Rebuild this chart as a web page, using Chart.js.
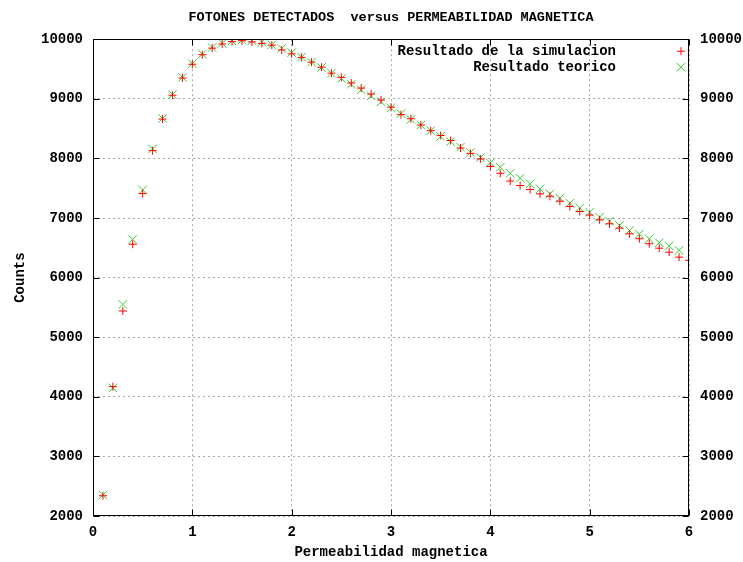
<!DOCTYPE html>
<html>
<head>
<meta charset="utf-8">
<script src="https://cdn.jsdelivr.net/npm/chart.js@4"></script>
<style>
  body { margin: 0; background: #fff; }
  #wrap { width: 743px; height: 562px; position: relative; }
</style>
</head>
<body>
<div id="wrap"><canvas id="chart"></canvas></div>
<script>
var chartTitle = 'FOTONES DETECTADOS  versus PERMEABILIDAD MAGNETICA';
var xTitle = 'Permeabilidad magnetica';
var yTitle = 'Counts';
var labels = ['Resultado de la simulacion', 'Resultado teorico'];

// permeabilidad (x) values
var xValues = [0.1, 0.2, 0.3, 0.4, 0.5, 0.6, 0.7, 0.8, 0.9, 1.0,
               1.1, 1.2, 1.3, 1.4, 1.5, 1.6, 1.7, 1.8, 1.9, 2.0,
               2.1, 2.2, 2.3, 2.4, 2.5, 2.6, 2.7, 2.8, 2.9, 3.0,
               3.1, 3.2, 3.3, 3.4, 3.5, 3.6, 3.7, 3.8, 3.9, 4.0,
               4.1, 4.2, 4.3, 4.4, 4.5, 4.6, 4.7, 4.8, 4.9, 5.0,
               5.1, 5.2, 5.3, 5.4, 5.5, 5.6, 5.7, 5.8, 5.9, 6.0];

var simCounts = [2340, 4170, 5440, 6560, 7410, 8130, 8660, 9060, 9350, 9580,
                 9740, 9850, 9920, 9960, 9975, 9955, 9930, 9900, 9820, 9755,
                 9695, 9615, 9530, 9430, 9360, 9265, 9180, 9080, 8980, 8860,
                 8735, 8665, 8560, 8465, 8385, 8300, 8175, 8085, 7990, 7865,
                 7750, 7620, 7545, 7478, 7405, 7365, 7282, 7193, 7109, 7050,
                 6970, 6903, 6830, 6735, 6652, 6568, 6494, 6427, 6343, 6290];

var theoryCounts = [2350, 4150, 5550, 6640, 7470, 8160, 8670, 9070, 9360, 9590,
                    9750, 9860, 9930, 9970, 9985, 9975, 9950, 9905, 9845, 9775,
                    9700, 9615, 9525, 9430, 9340, 9245, 9150, 9050, 8950, 8850,
                    8750, 8655, 8560, 8465, 8370, 8280, 8190, 8100, 8015, 7925,
                    7851, 7750, 7667, 7573, 7489, 7405, 7332, 7248, 7171, 7097,
                    7014, 6947, 6874, 6790, 6730, 6650, 6585, 6530, 6456];

var xTicks = [0, 1, 2, 3, 4, 5, 6];
var yTicks = [2000, 3000, 4000, 5000, 6000, 7000, 8000, 9000, 10000];

var FONT = "'Liberation Mono', 'DejaVu Sans Mono', monospace";

// gnuplot style frame, inward ticks and key
var gnuplotBits = {
    id: 'gnuplotBits',
    afterDatasetsDraw(chart) {
        let ctx = chart.ctx;
        let a = chart.chartArea;
        let L = Math.round(a.left) + 0.5, R = Math.round(a.right) - 0.5;
        let T = Math.round(a.top) + 0.5, B = Math.round(a.bottom) - 0.5;
        ctx.save();
        ctx.strokeStyle = '#000';
        ctx.lineWidth = 1;
        ctx.beginPath();
        chart.scales.x.ticks.forEach(function (t) {
            let px = Math.round(chart.scales.x.getPixelForValue(t.value)) + 0.5;
            ctx.moveTo(px, B); ctx.lineTo(px, B - 6);
            ctx.moveTo(px, T); ctx.lineTo(px, T + 6);
        });
        chart.scales.y.ticks.forEach(function (t) {
            let py = Math.round(chart.scales.y.getPixelForValue(t.value)) + 0.5;
            ctx.moveTo(L, py); ctx.lineTo(L + 6, py);
            ctx.moveTo(R, py); ctx.lineTo(R - 6, py);
        });
        ctx.stroke();
        ctx.strokeRect(L, T, R - L, B - T);

        // key, top right
        ctx.font = 'bold 14px ' + FONT;
        ctx.textAlign = 'right';
        ctx.textBaseline = 'middle';
        chart.data.datasets.forEach(function (ds, i) {
            let y = a.top + 12 + i * 16;
            ctx.fillStyle = '#000';
            ctx.fillText(ds.label, a.right - 73, y);
            ctx.strokeStyle = ds.borderColor;
            ctx.lineWidth = 1;
            Chart.helpers.drawPoint(ctx, {
                pointStyle: ds.pointStyle, radius: ds.pointRadius, rotation: 0, borderWidth: 1
            }, a.right - 8, y);
        });
        ctx.restore();
    }
};

var simData = xValues.map((x, i) => ({x: x, y: simCounts[i]}));
var theoryData = theoryCounts.map((y, i) => ({x: xValues[i], y: y}));

var tickFont = { family: FONT, size: 14, weight: 'bold' };
var plainNum = v => String(v);

new Chart(document.getElementById('chart'), {
    type: 'scatter',
    data: {
        datasets: [{
            label: labels[0],
            data: simData,
            pointStyle: 'cross',
            pointRadius: 4,
            borderColor: '#ff0000',
            backgroundColor: '#ff0000',
            borderWidth: 1
        }, {
            label: labels[1],
            data: theoryData,
            pointStyle: 'crossRot',
            pointRadius: 6,
            borderColor: '#33cc33',
            backgroundColor: '#33cc33',
            borderWidth: 1
        }]
    },
    options: {
        responsive: true,
        maintainAspectRatio: false,
        animation: false,
        layout: { padding: 0 },
        plugins: {
            legend: { display: false },
            tooltip: { enabled: false },
            title: {
                display: true,
                text: chartTitle,
                fullSize: false,
                color: '#000',
                font: { family: FONT, size: 13.5, weight: 'bold' },
                padding: { top: 9, bottom: 14 }
            }
        },
        scales: {
            x: {
                type: 'linear',
                position: 'bottom',
                min: 0, max: 6,
                afterBuildTicks: s => { s.ticks = xTicks.map(v => ({value: v})); },
                afterFit: s => { s.height = 46; },
                ticks: { color: '#000', padding: 8, font: tickFont, callback: plainNum },
                grid: { color: '#a8a8a8', drawTicks: false },
                border: { display: false, dash: [2, 3] },
                title: { display: true, text: xTitle, color: '#000', padding: { top: 0, bottom: 1 },
                         font: tickFont }
            },
            y: {
                type: 'linear',
                position: 'left',
                min: 2000, max: 10000,
                afterBuildTicks: s => { s.ticks = yTicks.map(v => ({value: v})); },
                afterFit: s => { s.width = 93; },
                ticks: { color: '#000', padding: 10, font: tickFont, callback: plainNum },
                grid: { color: '#a8a8a8', drawTicks: false },
                border: { display: false, dash: [2, 3] },
                title: { display: true, text: yTitle, color: '#000', padding: { top: 12, bottom: 0 },
                         font: tickFont }
            },
            y2: {
                type: 'linear',
                position: 'right',
                min: 2000, max: 10000,
                afterBuildTicks: s => { s.ticks = yTicks.map(v => ({value: v})); },
                afterFit: s => { s.width = 54; },
                ticks: { color: '#000', padding: 11, font: tickFont, callback: plainNum },
                grid: { drawOnChartArea: false, drawTicks: false },
                border: { display: false }
            }
        }
    },
    plugins: [gnuplotBits]
});
</script>
</body>
</html>
